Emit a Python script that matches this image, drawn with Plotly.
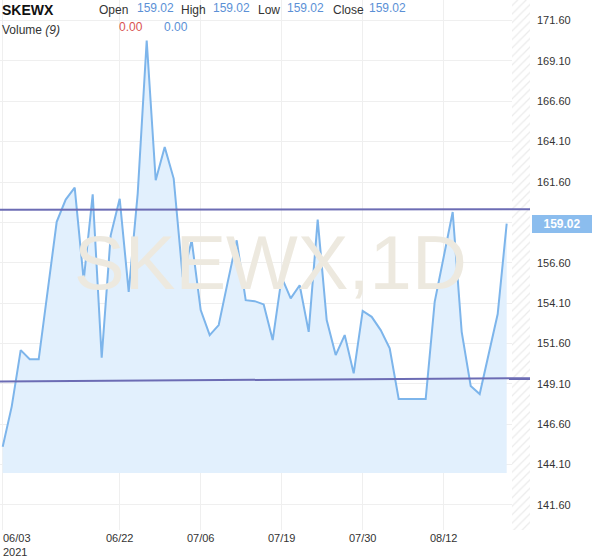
import plotly.graph_objects as go

# ---- data ----
dates = ["06/03", "06/04", "06/07", "06/08", "06/09", "06/10", "06/11", "06/14", "06/15", "06/16",
         "06/17", "06/18", "06/21", "06/22", "06/23", "06/24", "06/25", "06/28", "06/29", "06/30",
         "07/01", "07/02", "07/06", "07/07", "07/08", "07/09", "07/12", "07/13", "07/14", "07/15",
         "07/16", "07/19", "07/20", "07/21", "07/22", "07/23", "07/26", "07/27", "07/28", "07/29",
         "07/30", "08/02", "08/03", "08/04", "08/05", "08/06", "08/09", "08/10", "08/11", "08/12",
         "08/13", "08/16", "08/17", "08/18", "08/19", "08/20", "08/23"]
close = [145.21, 147.69, 151.19, 150.62, 150.62, 154.90, 159.13, 160.51, 161.25, 155.52,
         160.84, 150.72, 158.30, 160.56, 154.80, 160.88, 170.36, 161.71, 163.76, 161.81,
         155.71, 157.99, 153.67, 152.12, 152.74, 155.40, 157.99, 154.28, 154.22, 154.02,
         151.81, 155.69, 154.39, 155.21, 152.32, 159.27, 153.05, 150.88, 152.12, 149.75,
         153.62, 153.25, 152.43, 151.30, 148.16, 148.16, 148.16, 148.16, 154.18, 156.96,
         159.74, 152.32, 148.97, 148.47, 150.94, 153.42, 159.02]
fill_base = 143.58
upper_line = [159.88, 159.92]
lower_line = [149.25, 149.45]
y_ticks = [141.6, 144.1, 146.6, 149.1, 151.6, 154.1, 156.6, 159.1, 161.6, 164.1, 166.6, 169.1, 171.6]
x_tick_labels = ["06/03", "06/22", "07/06", "07/19", "07/30", "08/12"]
last_price = close[-1]

# ---- geometry helpers ----
W, H = 600, 558
ML, MR, MT, MB = 0, 70, 0, 28
PW, PH = W - ML - MR, H - MT - MB
X_RANGE = [-0.3, 58.59]
Y_RANGE = [140.05, 172.87]

def px(x):
    return (x - ML) / PW

def py(y):
    return 1 - (y - MT) / PH

xs = list(range(len(dates)))

fig = go.Figure()

# hatched "future" zone
hx0, hx1 = 56.59, X_RANGE[1]
fig.add_trace(go.Scatter(
    x=[hx0, hx1, hx1, hx0, hx0], y=[Y_RANGE[0], Y_RANGE[0], Y_RANGE[1], Y_RANGE[1], Y_RANGE[0]],
    fill="toself", mode="none", fillcolor="white",
    fillpattern=dict(shape="/", fgcolor="#d8d8d8", bgcolor="white", size=6, solidity=0.2),
    hoverinfo="skip", showlegend=False))

# base for area fill
fig.add_trace(go.Scatter(x=xs, y=[fill_base] * len(xs), mode="lines",
                         line=dict(width=0, color="rgba(0,0,0,0)"), hoverinfo="skip", showlegend=False))
fig.add_trace(go.Scatter(x=xs, y=close, mode="lines", fill="tonexty", fillcolor="#e2f0fd",
                         line=dict(color="#7db5eb", width=2), showlegend=False))

# trend lines
fig.add_shape(type="line", xref="paper", yref="y", x0=0, x1=1, y0=upper_line[0], y1=upper_line[1],
              line=dict(color="#6c6cb4", width=2))
fig.add_shape(type="line", xref="paper", yref="y", x0=0, x1=1, y0=lower_line[0], y1=lower_line[1],
              line=dict(color="#6c6cb4", width=2))

# watermark
fig.add_annotation(text="SKEWX,1D", xref="paper", yref="paper", x=px(270), y=py(262),
                   showarrow=False, font=dict(family="Liberation Sans, Arial", size=76, color="#ede9df"),
                   xanchor="center", yanchor="middle")

tickvals = [dates.index(d) for d in x_tick_labels]
ticktext = [""] + x_tick_labels[1:]
# the 159.10 label is hidden behind the last-price badge in the reference
y_ticktext = ["" if abs(v - 159.1) < 1e-6 else f"{v:.2f}" for v in y_ticks]

fig.update_layout(
    width=W, height=H, margin=dict(l=ML, r=MR, t=MT, b=MB),
    paper_bgcolor="white", plot_bgcolor="white",
    font=dict(family="Liberation Sans, Arial", size=11, color="#333333"),
    xaxis=dict(range=X_RANGE, tickvals=tickvals, ticktext=ticktext, showgrid=True,
               gridcolor="#efefef", gridwidth=1, zeroline=False, showline=False, ticks="",
               tickfont=dict(size=11, color="#333333")),
    yaxis=dict(range=Y_RANGE, side="right", tickvals=y_ticks, ticktext=y_ticktext,
               showgrid=True, gridcolor="#efefef", zeroline=False, showline=False, ticks="",
               ticklabelstandoff=6, tickfont=dict(size=11, color="#333333")),
    showlegend=False,
)

# first x label with year
fig.add_annotation(text="06/03<br>2021", xref="paper", yref="paper", x=px(1), y=py(530),
                   showarrow=False, xanchor="left", yanchor="top", align="left",
                   font=dict(size=11, color="#333333"))

# last price badge
fig.add_annotation(text="<b>159.02</b>", xref="paper", yref="y", x=px(532), y=last_price,
                   showarrow=False, xanchor="left", yanchor="middle",
                   bgcolor="#8bbdee", bordercolor="#8bbdee", borderpad=1, width=56,
                   font=dict(size=12, color="white"))

# header
def txt(s, x, y, color="#333333", size=12, bold=False):
    fig.add_annotation(text=f"<b>{s}</b>" if bold else s, xref="paper", yref="paper",
                       x=px(x), y=py(y), showarrow=False, xanchor="left", yanchor="middle",
                       font=dict(size=size, color=color))

blue = "#5b90d6"
txt("SKEWX", 0, 10, color="#111111", size=14, bold=True)
txt("Open", 97, 10)
txt(f"{last_price:.2f}", 135, 8, color=blue)
txt("High", 179, 10)
txt(f"{last_price:.2f}", 211, 8, color=blue)
txt("Low", 256, 10)
txt(f"{last_price:.2f}", 285, 8, color=blue)
txt("Close", 331, 10)
txt(f"{last_price:.2f}", 367, 8, color=blue)
txt("Volume <i>(9)</i>", 0, 30)
txt("0.00", 117, 27, color="#d9534f")
txt("0.00", 162, 27, color=blue)

fig.write_html("out.html", config={"displayModeBar": False},
               post_script="document.body.style.margin='0';document.body.style.overflow='hidden';")
